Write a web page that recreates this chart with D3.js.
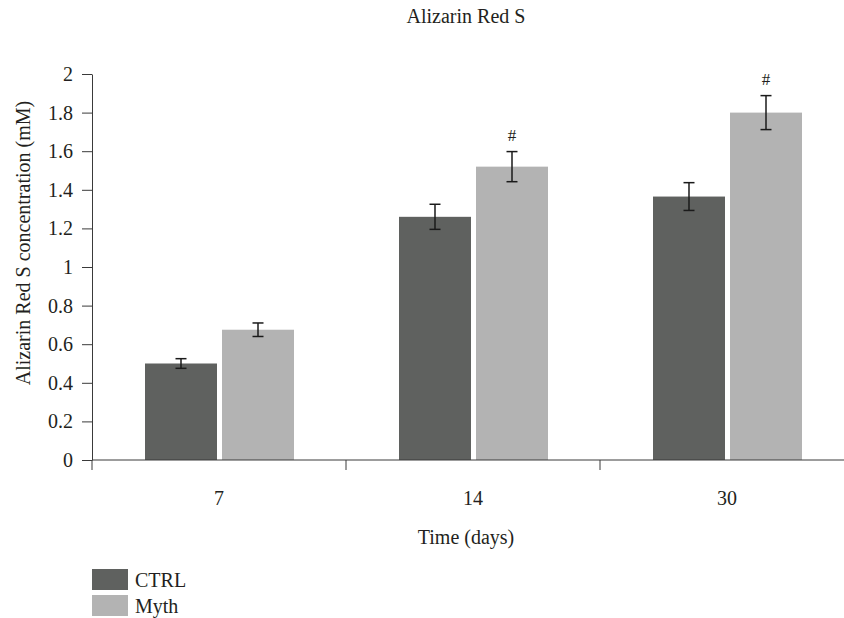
<!DOCTYPE html>
<html>
<head>
<meta charset="utf-8">
<script src="https://cdn.jsdelivr.net/npm/d3@7"></script>
<style>
    body { margin: 0; background: #fff; }
    svg text { font-family: "Liberation Serif", "Times New Roman", serif; fill: #231f20; }
    .axis path, .axis line { stroke: #3a3a3a; }
</style>
</head>
<body>
<div id="chart"></div>
<script>
// chart data
const days = ['7', '14', '30'];
const groups = ['CTRL', 'Myth'];
const ctrlMean = [0.50, 1.26, 1.365];
const ctrlErr = [0.025, 0.065, 0.072];
const mythMean = [0.675, 1.52, 1.80];
const mythErr = [0.035, 0.078, 0.088];
const mythMark = ['', '#', '#'];
const yTicks = [0, 0.2, 0.4, 0.6, 0.8, 1, 1.2, 1.4, 1.6, 1.8, 2];

const colors = { CTRL: '#5f615f', Myth: '#b3b3b3' };

class GroupedBarChart {
    constructor(_config) {
        this.config = {
            parentElement: _config.parentElement,
            containerWidth: 844,
            containerHeight: 618
        };
        this.initVis();
    }

    initVis() {
        let vis = this;

        vis.svg = d3.select(vis.config.parentElement).append('svg')
            .attr('width', vis.config.containerWidth)
            .attr('height', vis.config.containerHeight);

        // band per day, sub-band per group
        vis.xScale = d3.scaleBand()
            .domain(days)
            .range([92, 854]);

        vis.xSub = d3.scaleBand()
            .domain(groups)
            .range([53, 202])
            .paddingInner(0.065);

        vis.yScale = d3.scaleLinear()
            .domain([0, 2])
            .range([460, 74]);

        vis.updateVis();
    }

    updateVis() {
        let vis = this;

        vis.bars = [];
        days.forEach((d, i) => {
            vis.bars.push({ day: d, group: 'CTRL', mean: ctrlMean[i], err: ctrlErr[i], mark: '' });
            vis.bars.push({ day: d, group: 'Myth', mean: mythMean[i], err: mythErr[i], mark: mythMark[i] });
        });

        vis.renderVis();
    }

    renderVis() {
        let vis = this;

        // title
        vis.svg.append('text')
            .attr('x', 466)
            .attr('y', 23)
            .attr('text-anchor', 'middle')
            .style('font-size', '20px')
            .text('Alizarin Red S');

        // bars
        vis.svg.append('g').selectAll('rect')
            .data(vis.bars)
            .join('rect')
            .attr('x', d => vis.xScale(d.day) + vis.xSub(d.group))
            .attr('y', d => vis.yScale(d.mean))
            .attr('width', vis.xSub.bandwidth())
            .attr('height', d => vis.yScale(0) - vis.yScale(d.mean))
            .attr('fill', d => colors[d.group]);

        // error bars
        let errG = vis.svg.append('g')
            .attr('stroke', '#1a1a1a')
            .attr('stroke-width', 1.5)
            .selectAll('g')
            .data(vis.bars)
            .join('g')
            .attr('transform', d => `translate(${vis.xScale(d.day) + vis.xSub(d.group) + vis.xSub.bandwidth() / 2},0)`);

        errG.append('line')
            .attr('y1', d => vis.yScale(d.mean - d.err))
            .attr('y2', d => vis.yScale(d.mean + d.err));
        errG.append('line')
            .attr('x1', -5.5).attr('x2', 5.5)
            .attr('y1', d => vis.yScale(d.mean + d.err))
            .attr('y2', d => vis.yScale(d.mean + d.err));
        errG.append('line')
            .attr('x1', -5.5).attr('x2', 5.5)
            .attr('y1', d => vis.yScale(d.mean - d.err))
            .attr('y2', d => vis.yScale(d.mean - d.err));

        // significance marks
        vis.svg.append('g').selectAll('text')
            .data(vis.bars.filter(d => d.mark))
            .join('text')
            .attr('x', d => vis.xScale(d.day) + vis.xSub(d.group) + vis.xSub.bandwidth() / 2)
            .attr('y', d => vis.yScale(d.mean + d.err) - 11)
            .attr('text-anchor', 'middle')
            .style('font-size', '17px')
            .text(d => d.mark);

        // y axis
        let yAxisG = vis.svg.append('g')
            .attr('class', 'axis')
            .attr('transform', 'translate(92,0)')
            .call(d3.axisLeft(vis.yScale).tickValues(yTicks).tickSize(10).tickSizeOuter(0).tickPadding(9).tickFormat(d3.format('')));
        yAxisG.selectAll('text').style('font-size', '20px').attr('fill', null);

        // x axis: labels centred in bands, ticks on band edges
        let xAxisG = vis.svg.append('g')
            .attr('class', 'axis')
            .attr('transform', 'translate(0,460)')
            .call(d3.axisBottom(vis.xScale).tickSize(0).tickPadding(31));
        xAxisG.select('.domain').attr('d', 'M92,0H844');
        xAxisG.selectAll('text').style('font-size', '20px').attr('fill', null);
        xAxisG.selectAll('.edge')
            .data(days)
            .join('line')
            .attr('class', 'edge')
            .attr('x1', d => vis.xScale(d))
            .attr('x2', d => vis.xScale(d))
            .attr('y1', 0)
            .attr('y2', 10);

        // axis titles
        vis.svg.append('text')
            .attr('transform', 'translate(30,243) rotate(-90)')
            .attr('text-anchor', 'middle')
            .style('font-size', '20px')
            .text('Alizarin Red S concentration (mM)');

        vis.svg.append('text')
            .attr('x', 466)
            .attr('y', 544)
            .attr('text-anchor', 'middle')
            .style('font-size', '20px')
            .text('Time (days)');

        // legend
        let legend = vis.svg.append('g').selectAll('g')
            .data(groups)
            .join('g')
            .attr('transform', (d, i) => `translate(92,${569 + i * 26})`);

        legend.append('rect')
            .attr('width', 36)
            .attr('height', 21)
            .attr('fill', d => colors[d]);

        legend.append('text')
            .attr('x', 43)
            .attr('y', 10.5)
            .attr('dy', '0.35em')
            .style('font-size', '20px')
            .text(d => d);
    }
}

new GroupedBarChart({ parentElement: '#chart' });
</script>
</body>
</html>
